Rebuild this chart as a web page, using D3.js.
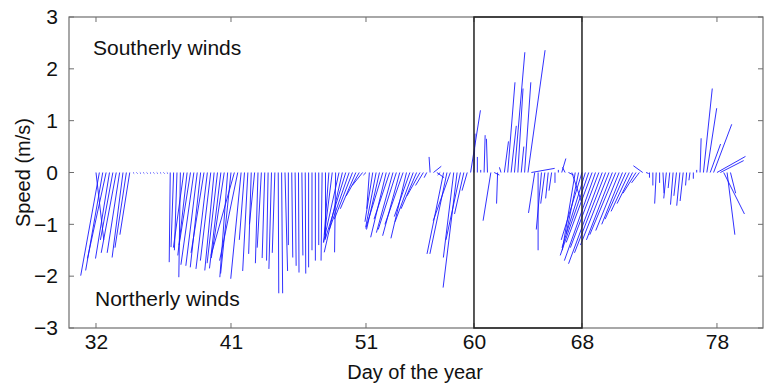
<!DOCTYPE html>
<html>
<head>
<meta charset="utf-8">
<script src="https://cdn.jsdelivr.net/npm/d3@7"></script>
<style>
  body { margin: 0; background: #fff; }
  text { font-family: Arial, "Liberation Sans", sans-serif; fill: #111; }
</style>
</head>
<body>
<svg id="chart" width="765" height="385"></svg>
<script>
// wind sticks, one every 6 hours starting at day 32
var startDay = 32;
var stepDay = 0.25;

// north-south component (m/s), positive = southerly
var vSpeed = [
  -1.30,-1.99,-1.89,-1.66,-1.66,-1.30,-1.55,-1.55,-1.64,-1.45,-1.20,
  -0.02,-0.02,-0.02,-0.02,-0.02,-0.02,-0.02,-0.02,-0.02,-0.02,-0.02,
  -1.73,-1.44,-1.50,-2.02,-1.45,-1.60,-1.40,-1.78,-1.80,-1.83,-1.55,-1.86,-1.70,-1.89,-1.75,-1.85,-1.65,-2.02,-1.95,-1.60,-1.70,-2.05,-1.30,-1.90,-1.57,
  -1.00,-1.75,-1.45,-1.65,-1.70,-1.86,-1.55,-2.33,-2.33,-1.90,-1.40,-1.64,-1.80,-1.93,-1.60,-1.95,-1.83,-1.50,-1.70,-1.40,-1.70,-1.27,
  -1.35,-1.20,-1.54,-1.35,-1.54,-1.30,-1.10,-0.90,-0.70,-0.45,-0.25,-0.05,
  -0.70,-0.95,-1.05,-1.10,-1.08,-1.25,-0.90,-1.16,-1.10,-1.22,-1.00,-1.27,-0.85,-0.95,-0.70,-0.45,-0.25,-0.10,
  0.30,0.12,-0.10,-0.05,
  -1.57,-1.57,-0.93,-1.64,-2.22,-1.30,-0.80,-0.35,
  1.20,0.75,0.30,0.05,0.72,0.65,-0.93,-0.05,-0.60,0.10,
  0.60,1.74,0.90,2.32,1.62,0.50,1.74,2.36,0.08,-0.78,-1.50,-1.10,-0.60,-0.50,-0.35,-0.20,0.05,0.27,0.10,-0.05,-0.55,
  -1.50,-1.18,-1.30,-1.45,-1.60,-1.35,-1.70,-1.45,-1.76,-1.55,-1.40,-1.30,-1.20,-1.12,-1.00,-0.90,-0.75,-0.60,-0.40,-0.20,0.13,-0.02,
  -0.10,-0.25,-0.60,-0.20,-0.40,-0.50,-0.30,-0.62,-0.45,-0.64,-0.55,-0.25,-0.15,-0.12,0.05,
  0.66,1.62,1.24,0.55,0.93,0.31,0.23,-0.80,-1.20,-0.40
];

// east-west component (m/s)
var uSpeed = [
  0.15,-0.36,-0.33,-0.36,-0.27,-0.24,-0.29,-0.24,-0.21,-0.22,-0.19,
  0.02,0.02,0.02,0.02,0.02,0.02,0.02,0.02,0.02,0.02,0.02,
  -0.02,-0.05,-0.05,-0.03,-0.20,-0.18,-0.22,-0.25,-0.22,-0.20,-0.25,-0.22,-0.20,-0.18,-0.20,-0.22,-0.25,-0.15,-0.20,-0.45,-0.35,-0.20,-0.10,-0.10,-0.05,
  -0.10,-0.05,-0.08,-0.05,-0.03,-0.05,-0.05,0.01,0.02,0.05,0.00,0.02,0.02,0.01,0.02,0.01,0.00,0.00,0.00,0.00,-0.02,0.00,
  -0.10,-0.15,-0.02,-0.30,-0.35,-0.40,-0.38,-0.35,-0.30,-0.25,-0.20,-0.05,
  -0.05,-0.15,-0.20,-0.25,-0.33,-0.30,-0.30,-0.32,-0.35,-0.33,-0.35,-0.30,-0.30,-0.35,-0.30,-0.25,-0.15,-0.05,
  -0.02,0.15,0.14,-0.05,
  -0.32,-0.33,-0.33,-0.20,-0.27,-0.28,-0.18,-0.10,
  0.19,0.02,0.00,0.00,0.02,-0.02,-0.15,0.10,-0.02,-0.03,
  0.08,0.14,0.10,0.20,0.10,0.05,0.12,0.33,0.45,-0.12,0.00,-0.10,-0.08,-0.05,-0.05,0.00,0.00,0.08,-0.05,0.10,0.18,
  -0.25,-0.24,-0.40,-0.45,-0.55,-0.50,-0.60,-0.55,-0.65,-0.60,-0.55,-0.50,-0.50,-0.45,-0.40,-0.40,-0.35,-0.30,-0.25,-0.15,-0.18,0.05,
  0.00,0.00,-0.03,0.00,0.02,-0.05,-0.03,-0.05,-0.05,-0.06,-0.06,-0.02,-0.02,0.00,0.00,
  0.02,0.17,0.19,0.20,0.35,0.55,0.45,0.40,0.15,0.10
];

var tickDays = [32, 42, 52, 60, 68, 78];
var tickLabels = ["32", "41", "51", "60", "68", "78"];
var yTicks = [-3, -2, -1, 0, 1, 2, 3];
var boxDays = [60, 68];

var svg = d3.select("#chart");
var margin = {top: 17, right: 2, bottom: 57, left: 69};
var width = 765 - margin.left - margin.right;
var height = 385 - margin.top - margin.bottom;

var xScale = d3.scaleLinear().domain([30, 81.41]).range([margin.left, margin.left + width]);
var yScale = d3.scaleLinear().domain([-3, 3]).range([margin.top + height, margin.top]);
var pxPerUnit = yScale(0) - yScale(1);

var sticks = vSpeed.map(function(v, i) {
  return {day: startDay + i * stepDay, u: uSpeed[i], v: v};
});

// sticks
svg.append("g").selectAll("line")
  .data(sticks)
  .enter()
  .append("line")
  .attr("x1", d => xScale(d.day))
  .attr("y1", yScale(0))
  .attr("x2", d => xScale(d.day) + d.u * pxPerUnit)
  .attr("y2", d => yScale(d.v))
  .attr("stroke", "#1a1aff")
  .attr("stroke-width", 0.9);

// frame + ticks
var frame = svg.append("g").attr("stroke", "#6e6e6e").attr("fill", "none");
frame.append("rect")
  .attr("x", margin.left).attr("y", margin.top)
  .attr("width", width).attr("height", height)
  .attr("stroke-width", 1.2);

var xAxis = d3.axisBottom(xScale).tickValues(tickDays)
  .tickFormat((d, i) => tickLabels[i]).tickSize(0).tickPadding(6);
var gx = svg.append("g")
  .attr("transform", "translate(0," + (margin.top + height) + ")")
  .call(xAxis);
gx.select(".domain").remove();
gx.selectAll("text").style("font-size", "21px").attr("fill", "#111");

var yAxis = d3.axisLeft(yScale).tickValues(yTicks)
  .tickFormat(d => d < 0 ? "\u2212" + Math.abs(d) : d).tickSize(0).tickPadding(11);
var gy = svg.append("g")
  .attr("transform", "translate(" + margin.left + ",0)")
  .call(yAxis);
gy.select(".domain").remove();
gy.selectAll("text").style("font-size", "21px").attr("fill", "#111");

// inward tick marks on all four sides
tickDays.forEach(function(d) {
  frame.append("line").attr("x1", xScale(d)).attr("x2", xScale(d))
    .attr("y1", margin.top + height).attr("y2", margin.top + height - 5);
  frame.append("line").attr("x1", xScale(d)).attr("x2", xScale(d))
    .attr("y1", margin.top).attr("y2", margin.top + 5);
});
yTicks.forEach(function(d) {
  frame.append("line").attr("x1", margin.left).attr("x2", margin.left + 5)
    .attr("y1", yScale(d)).attr("y2", yScale(d));
  frame.append("line").attr("x1", margin.left + width).attr("x2", margin.left + width - 5)
    .attr("y1", yScale(d)).attr("y2", yScale(d));
});

// highlighted period
svg.append("rect")
  .attr("x", xScale(boxDays[0])).attr("y", yScale(3))
  .attr("width", xScale(boxDays[1]) - xScale(boxDays[0]))
  .attr("height", yScale(-3) - yScale(3))
  .attr("fill", "none").attr("stroke", "#222").attr("stroke-width", 1.5);

// annotations
svg.append("text").attr("x", 93).attr("y", 55).style("font-size", "21px").text("Southerly winds");
svg.append("text").attr("x", 95).attr("y", 306).style("font-size", "21px").text("Northerly winds");

svg.append("text")
  .attr("x", 415).attr("y", 379)
  .attr("text-anchor", "middle").style("font-size", "20px")
  .text("Day of the year");

svg.append("text")
  .attr("transform", "translate(30," + yScale(0) + ") rotate(-90)")
  .attr("text-anchor", "middle").style("font-size", "20px")
  .text("Speed (m/s)");
</script>
</body>
</html>
